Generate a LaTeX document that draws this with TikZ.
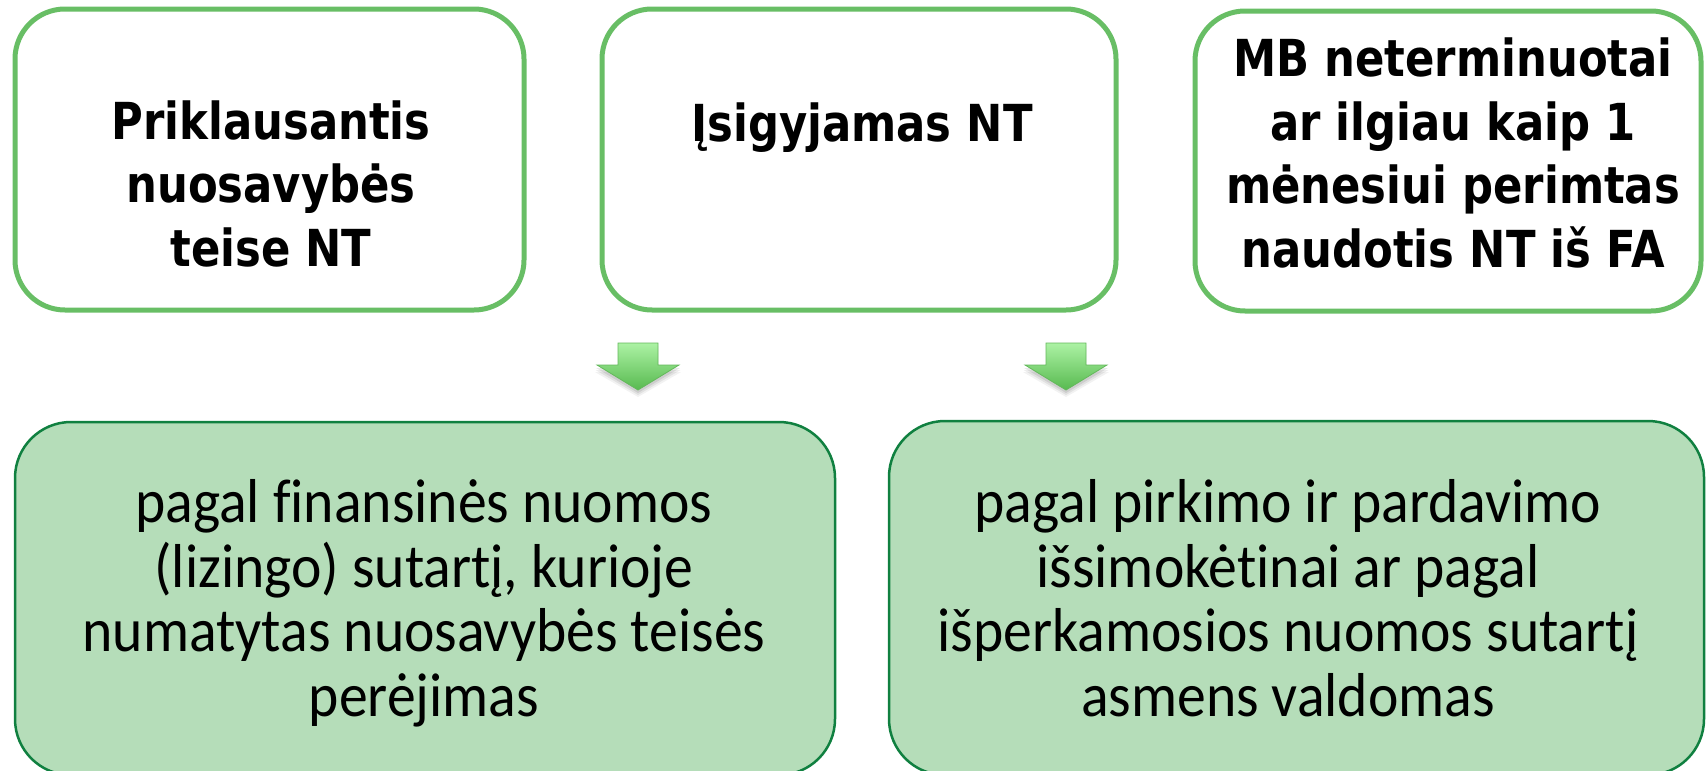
\documentclass[tikz,border=0pt]{standalone}
\usepackage{fontspec}
\newfontfamily\topfont[FakeStretch=0.85]{DejaVu Sans}
\newfontfamily\botfont[FakeStretch=0.93,Ligatures=NoCommon]{Carlito}
\definecolor{topborder}{HTML}{68BE65}
\definecolor{botfill}{HTML}{B5DDB9}
\definecolor{botborder}{HTML}{108040}
\definecolor{arrtop}{HTML}{ACF2A4}
\definecolor{arrbot}{HTML}{58BA50}
\definecolor{arrline}{HTML}{64B85C}
\tikzset{
  topbox/.style={draw=topborder, line width=5pt, fill=white, rounded corners=50pt, inner sep=0pt, outer sep=0pt},
  botbox/.style={draw=botborder, line width=2.5pt, fill=botfill, rounded corners=56pt, inner sep=0pt, outer sep=0pt},
  toptext/.style={font={\topfont\bfseries\fontsize{51}{63.5}\selectfont}, align=center, inner sep=0pt, anchor=base},
  bottext/.style={font={\botfont\fontsize{62}{64.5}\selectfont}, align=center, inner sep=0pt, anchor=base},
  arrowshape/.style={top color=arrtop, bottom color=arrbot, draw=arrline, line width=0.8pt, line join=miter},
}
\begin{document}
\begin{tikzpicture}[x=1pt,y=-1pt]
\useasboundingbox (0,0) rectangle (1706,771);
\clip (0,0) rectangle (1706,771);
% top boxes
\node[topbox, minimum width=509pt, minimum height=301pt] (b1) at (269.5,159.5) {};
\node[topbox, minimum width=514pt, minimum height=301pt] (b2) at (859,159.5) {};
\node[topbox, minimum width=506pt, minimum height=300pt] (b3) at (1448,161) {};
% bottom boxes
\node[botbox, minimum width=820pt, minimum height=353pt] (b4) at (425,598.5) {};
\node[botbox, minimum width=815pt, minimum height=354pt] (b5) at (1296.5,598) {};
% texts
\node[toptext] (t1) at (271,266) {Priklausantis\\nuosavybės\\teise NT};
\node[toptext] (t2) at (862,141) {Įsigyjamas NT};
\node[toptext] (t3) at (1453,267) {MB neterminuotai\\ar ilgiau kaip 1\\mėnesiui perimtas\\naudotis NT iš FA};
\node[bottext] (t4) at (424,716) {pagal f\kern0pt inansinės nuomos\\(lizingo) sutartį, kurioje\\numatytas nuosavybės teisės\\perėjimas};
\node[bottext] (t5) at (1288,716) {pagal pirkimo ir pardavimo\\išsimokėtinai ar pagal\\išperkamosios nuomos sutartį\\asmens valdomas};
% block arrows
\foreach \c/\n in {638/a1,1066/a2}{
  \foreach \s/\o in {7/0.05,5/0.07,3/0.09}{
    \fill[black, opacity=\o] (\c-20,343+\s) -- (\c+20,343+\s) -- (\c+20,365+\s) -- (\c+41+\s*0.3,365+\s) -- (\c,390+\s) -- (\c-41-\s*0.3,365+\s) -- (\c-20,365+\s) -- cycle;
  }
  \shade[arrowshape] (\c-20,343) -- (\c+20,343) -- (\c+20,365) -- (\c+41,365) -- (\c,390) -- (\c-41,365) -- (\c-20,365) -- cycle;
  \coordinate (\n) at (\c,366);
}
\end{tikzpicture}
\end{document}
